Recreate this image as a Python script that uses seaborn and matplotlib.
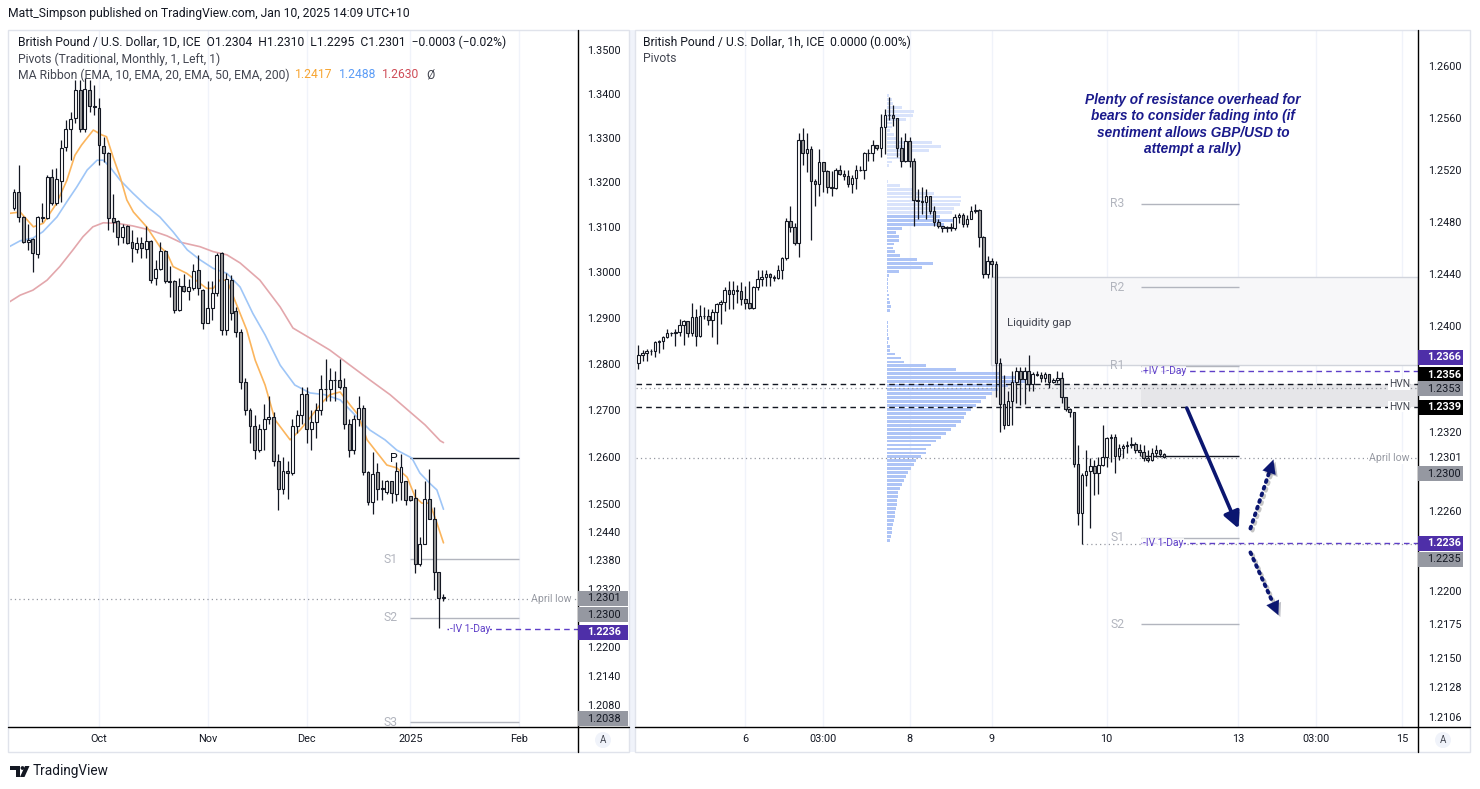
import numpy as np
import matplotlib
matplotlib.use("Agg")
import matplotlib.pyplot as plt
from matplotlib.patches import Rectangle, Circle, Polygon
from matplotlib.transforms import IdentityTransform
from matplotlib.ticker import NullLocator
import matplotlib.patheffects as pe
import seaborn as sns

sns.set_theme(style="white")
plt.rcParams['font.family'] = ['Roboto', 'DejaVu Sans']

# ---------------- daily GBP/USD (left panel) ----------------
d_open = [
    1.3143, 1.3179, 1.3123, 1.3068, 1.3074, 1.3041, 1.3121, 1.3121, 1.3212, 1.3154,
    1.3203, 1.3279, 1.3320, 1.3345, 1.3409, 1.3320, 1.3409, 1.3373, 1.3368, 1.3282,
    1.3266, 1.3121, 1.3114, 1.3079, 1.3103, 1.3068, 1.3052, 1.3066, 1.3052, 1.3070,
    1.2987, 1.3007, 1.3048, 1.2981, 1.2981, 1.2917, 1.2970, 1.2959, 1.2966, 1.3005,
    1.2961, 1.2890, 1.2922, 1.2955, 1.3043, 1.2874, 1.2983, 1.2915, 1.2870, 1.2760,
    1.2700, 1.2665, 1.2615, 1.2660, 1.2680, 1.2685, 1.2590, 1.2530, 1.2570, 1.2565,
    1.2665, 1.2690, 1.2735, 1.2660, 1.2675, 1.2700, 1.2745, 1.2745, 1.2765, 1.2765,
    1.2750, 1.2670, 1.2615, 1.2680, 1.2705, 1.2567, 1.2504, 1.2567, 1.2533, 1.2524,
    1.2548, 1.2520, 1.2546, 1.2548, 1.2517, 1.2512, 1.2372, 1.2414, 1.2510, 1.2468,
    1.2356, 1.2304]
d_high = [
    1.3185, 1.3239, 1.3125, 1.3107, 1.3076, 1.3125, 1.3154, 1.3216, 1.3230, 1.3232,
    1.3295, 1.3340, 1.3358, 1.3431, 1.3431, 1.3436, 1.3431, 1.3420, 1.3391, 1.3302,
    1.3268, 1.3174, 1.3116, 1.3107, 1.3105, 1.3094, 1.3079, 1.3079, 1.3103, 1.3072,
    1.3028, 1.3068, 1.3050, 1.3015, 1.2983, 1.2988, 1.2996, 1.2985, 1.3018, 1.3039,
    1.2963, 1.2981, 1.2981, 1.3043, 1.3045, 1.2998, 1.2994, 1.2925, 1.2875, 1.2770,
    1.2705, 1.2690, 1.2670, 1.2713, 1.2730, 1.2695, 1.2605, 1.2600, 1.2590, 1.2680,
    1.2700, 1.2750, 1.2750, 1.2700, 1.2715, 1.2775, 1.2810, 1.2790, 1.2785, 1.2810,
    1.2770, 1.2680, 1.2690, 1.2730, 1.2710, 1.2570, 1.2610, 1.2586, 1.2550, 1.2550,
    1.2548, 1.2588, 1.2606, 1.2548, 1.2517, 1.2531, 1.2429, 1.2548, 1.2573, 1.2493,
    1.2356, 1.2310]
d_low = [
    1.3138, 1.3112, 1.3066, 1.3050, 1.3001, 1.3032, 1.3112, 1.3118, 1.3150, 1.3150,
    1.3156, 1.3270, 1.3250, 1.3334, 1.3313, 1.3313, 1.3359, 1.3352, 1.3239, 1.3246,
    1.3094, 1.3090, 1.3061, 1.3066, 1.3064, 1.3023, 1.3043, 1.3032, 1.3032, 1.2977,
    1.2972, 1.3005, 1.2977, 1.2946, 1.2910, 1.2915, 1.2957, 1.2939, 1.2961, 1.2950,
    1.2876, 1.2889, 1.2896, 1.2948, 1.2863, 1.2863, 1.2896, 1.2858, 1.2745, 1.2690,
    1.2630, 1.2596, 1.2610, 1.2615, 1.2670, 1.2580, 1.2486, 1.2520, 1.2510, 1.2560,
    1.2650, 1.2670, 1.2630, 1.2615, 1.2640, 1.2690, 1.2720, 1.2720, 1.2720, 1.2745,
    1.2660, 1.2600, 1.2605, 1.2665, 1.2560, 1.2496, 1.2477, 1.2508, 1.2508, 1.2520,
    1.2502, 1.2506, 1.2508, 1.2497, 1.2506, 1.2354, 1.2368, 1.2414, 1.2468, 1.2318,
    1.2239, 1.2295]
d_close = [
    1.3179, 1.3123, 1.3068, 1.3072, 1.3043, 1.3123, 1.3122, 1.3212, 1.3154, 1.3207,
    1.3277, 1.3320, 1.3342, 1.3409, 1.3320, 1.3411, 1.3373, 1.3371, 1.3284, 1.3266,
    1.3121, 1.3112, 1.3079, 1.3101, 1.3066, 1.3055, 1.3066, 1.3055, 1.3070, 1.2983,
    1.3007, 1.3048, 1.2981, 1.2980, 1.2917, 1.2970, 1.2959, 1.2968, 1.3003, 1.2966,
    1.2890, 1.2922, 1.2955, 1.3039, 1.2874, 1.2985, 1.2911, 1.2870, 1.2760, 1.2700,
    1.2665, 1.2615, 1.2660, 1.2680, 1.2685, 1.2590, 1.2530, 1.2570, 1.2565, 1.2665,
    1.2690, 1.2735, 1.2660, 1.2675, 1.2700, 1.2745, 1.2745, 1.2765, 1.2765, 1.2750,
    1.2670, 1.2615, 1.2680, 1.2705, 1.2567, 1.2504, 1.2563, 1.2531, 1.2531, 1.2548,
    1.2522, 1.2569, 1.2578, 1.2508, 1.2508, 1.2372, 1.2414, 1.2510, 1.2468, 1.2356,
    1.2301, 1.2301]

# MA ribbon, read at bar positions
ema10_x = [-1, 1.3, 4.1, 6.2, 9.0, 11.2, 12.9, 14.3, 16.8, 18.6, 19.6, 21.0, 22.5, 23.9,
           25.3, 28.1, 30.9, 32.4, 33.7, 36.6, 39.4, 40.8, 42.2, 43.6, 45.1, 46.5, 47.9,
           49.3, 51.1, 53.2, 55.3, 58.5, 60.6, 62.7, 64.8, 66.9, 69.1, 71.2, 72.9, 74.8,
           79.0, 81.1, 83.3, 85.0, 86.4, 88.1, 89.6, 91.0]
ema10_v = [1.3131, 1.3134, 1.3101, 1.3109, 1.3153, 1.3205, 1.3261, 1.3284, 1.3318, 1.3307,
           1.3303, 1.3257, 1.3212, 1.3161, 1.3134, 1.3101, 1.3057, 1.3043, 1.3013, 1.2998,
           1.2976, 1.2965, 1.2965, 1.2983, 1.2983, 1.2946, 1.2910, 1.2874, 1.2808, 1.2754,
           1.2679, 1.2636, 1.2657, 1.2683, 1.2711, 1.2733, 1.2739, 1.2711, 1.2690, 1.2636,
           1.2582, 1.2576, 1.2556, 1.2514, 1.2501, 1.2501, 1.2459, 1.2417]
ema20_x = [-1, 1.3, 4.0, 6.1, 9.1, 11.2, 13.3, 15.5, 17.6, 18.9, 20.3, 22.5, 25.2, 28.2,
           30.9, 33.7, 36.7, 39.4, 42.2, 45.1, 47.9, 50.6, 53.2, 56.4, 59.5, 62.7, 65.9,
           69.1, 72.2, 75.4, 78.6, 81.1, 84.3, 86.0, 88.1, 89.6, 91.0]
ema20_v = [1.3057, 1.3070, 1.3076, 1.3090, 1.3123, 1.3157, 1.3190, 1.3228, 1.3250, 1.3250,
           1.3235, 1.3205, 1.3176, 1.3146, 1.3123, 1.3090, 1.3050, 1.3028, 1.3009, 1.2998,
           1.2968, 1.2910, 1.2863, 1.2797, 1.2754, 1.2737, 1.2733, 1.2722, 1.2690, 1.2657,
           1.2636, 1.2614, 1.2597, 1.2565, 1.2543, 1.2529, 1.2488]
ema50_x = [-1, 1.3, 4.0, 7.0, 9.7, 12.5, 14.6, 16.7, 18.9, 21.8, 25.2, 28.8, 32.4, 35.2,
           39.4, 42.2, 45.1, 47.9, 52.1, 56.4, 59.1, 62.7, 66.9, 71.2, 75.4, 79.7, 83.9,
           87.1, 90.3, 91.0]
ema50_v = [1.2935, 1.2950, 1.2961, 1.2983, 1.3013, 1.3050, 1.3079, 1.3101, 1.3110, 1.3109,
           1.3103, 1.3094, 1.3081, 1.3067, 1.3057, 1.3046, 1.3039, 1.3021, 1.2983, 1.2924,
           1.2878, 1.2856, 1.2830, 1.2797, 1.2765, 1.2733, 1.2696, 1.2668, 1.2634, 1.2630]

d_pivots = {'P': 1.2597, 'S1': 1.2383, 'S2': 1.2260, 'S3': 1.2045}
d_ticks = [1.35, 1.34, 1.33, 1.32, 1.31, 1.30, 1.29, 1.28, 1.27, 1.26, 1.25,
           1.244, 1.238, 1.232, 1.22, 1.214, 1.208]
d_time_pos = [18, 41, 62, 84, 107]
d_time_lab = ['Oct', 'Nov', 'Dec', '2025', 'Feb']

# ---------------- hourly GBP/USD (right panel) ----------------
h_close = [
    1.2378, 1.2380, 1.2381, 1.2381, 1.2388, 1.2389, 1.2392, 1.2395, 1.2395, 1.2396,
    1.2401, 1.2404, 1.2395, 1.2407, 1.2393, 1.2408, 1.2408, 1.2405, 1.2411, 1.2417,
    1.2419, 1.2428, 1.2425, 1.2428, 1.2427, 1.2421, 1.2418, 1.2414, 1.2430, 1.2436,
    1.2438, 1.2440, 1.2438, 1.2437, 1.2443, 1.2452, 1.2481, 1.2476, 1.2464, 1.2543,
    1.2533, 1.2536, 1.2511, 1.2509, 1.2526, 1.2519, 1.2507, 1.2506, 1.2520, 1.2517,
    1.2515, 1.2509, 1.2514, 1.2520, 1.2520, 1.2533, 1.2533, 1.2539, 1.2537, 1.2553,
    1.2562, 1.2562, 1.2560, 1.2537, 1.2527, 1.2542, 1.2527, 1.2497, 1.2496, 1.2495,
    1.2500, 1.2488, 1.2480, 1.2477, 1.2475, 1.2476, 1.2475, 1.2484, 1.2485, 1.2478,
    1.2482, 1.2488, 1.2489, 1.2468, 1.2440, 1.2450, 1.2448, 1.2372, 1.2341, 1.2325,
    1.2343, 1.2358, 1.2366, 1.2360, 1.2366, 1.2356, 1.2364, 1.2363, 1.2361, 1.2364,
    1.2358, 1.2359, 1.2361, 1.2346, 1.2337, 1.2335, 1.2296, 1.2259, 1.2287, 1.2290,
    1.2294, 1.2289, 1.2295, 1.2301, 1.2315, 1.2316, 1.2302, 1.2308, 1.2309, 1.2310,
    1.2311, 1.2306, 1.2305, 1.2300, 1.2299, 1.2304, 1.2306, 1.2303, 1.2301]
h_high = [
    1.2386, 1.2382, 1.2383, 1.2383, 1.2389, 1.2390, 1.2393, 1.2398, 1.2396, 1.2398,
    1.2406, 1.2405, 1.2400, 1.2418, 1.2413, 1.2416, 1.2415, 1.2413, 1.2413, 1.2418,
    1.2420, 1.2430, 1.2435, 1.2435, 1.2432, 1.2434, 1.2431, 1.2435, 1.2431, 1.2443,
    1.2443, 1.2443, 1.2441, 1.2439, 1.2447, 1.2453, 1.2483, 1.2492, 1.2479, 1.2548,
    1.2552, 1.2548, 1.2538, 1.2513, 1.2536, 1.2525, 1.2520, 1.2519, 1.2521, 1.2524,
    1.2520, 1.2520, 1.2516, 1.2524, 1.2523, 1.2534, 1.2536, 1.2543, 1.2538, 1.2563,
    1.2567, 1.2576, 1.2570, 1.2560, 1.2545, 1.2548, 1.2545, 1.2529, 1.2505, 1.2507,
    1.2505, 1.2497, 1.2492, 1.2482, 1.2477, 1.2477, 1.2479, 1.2486, 1.2487, 1.2487,
    1.2485, 1.2492, 1.2494, 1.2490, 1.2469, 1.2454, 1.2452, 1.2450, 1.2376, 1.2363,
    1.2351, 1.2366, 1.2369, 1.2369, 1.2369, 1.2378, 1.2365, 1.2366, 1.2365, 1.2365,
    1.2363, 1.2361, 1.2366, 1.2365, 1.2346, 1.2338, 1.2334, 1.2310, 1.2289, 1.2306,
    1.2300, 1.2299, 1.2301, 1.2325, 1.2316, 1.2318, 1.2318, 1.2311, 1.2311, 1.2313,
    1.2316, 1.2312, 1.2311, 1.2310, 1.2306, 1.2308, 1.2310, 1.2307, 1.2304]
h_low = [
    1.2368, 1.2374, 1.2374, 1.2378, 1.2377, 1.2380, 1.2383, 1.2391, 1.2393, 1.2385,
    1.2393, 1.2386, 1.2392, 1.2393, 1.2385, 1.2392, 1.2406, 1.2401, 1.2392, 1.2387,
    1.2402, 1.2412, 1.2413, 1.2413, 1.2418, 1.2416, 1.2413, 1.2413, 1.2413, 1.2428,
    1.2431, 1.2431, 1.2431, 1.2435, 1.2436, 1.2436, 1.2451, 1.2472, 1.2462, 1.2453,
    1.2524, 1.2518, 1.2466, 1.2492, 1.2500, 1.2503, 1.2502, 1.2500, 1.2505, 1.2516,
    1.2512, 1.2507, 1.2502, 1.2505, 1.2519, 1.2513, 1.2527, 1.2527, 1.2535, 1.2530,
    1.2532, 1.2558, 1.2554, 1.2530, 1.2522, 1.2526, 1.2522, 1.2477, 1.2482, 1.2486,
    1.2482, 1.2486, 1.2477, 1.2475, 1.2472, 1.2472, 1.2473, 1.2474, 1.2479, 1.2476,
    1.2476, 1.2482, 1.2487, 1.2461, 1.2437, 1.2437, 1.2438, 1.2346, 1.2320, 1.2322,
    1.2325, 1.2325, 1.2342, 1.2340, 1.2341, 1.2351, 1.2351, 1.2362, 1.2358, 1.2358,
    1.2353, 1.2357, 1.2357, 1.2342, 1.2336, 1.2331, 1.2293, 1.2250, 1.2235, 1.2279,
    1.2247, 1.2272, 1.2273, 1.2294, 1.2293, 1.2297, 1.2289, 1.2299, 1.2300, 1.2304,
    1.2308, 1.2304, 1.2302, 1.2298, 1.2297, 1.2298, 1.2301, 1.2301, 1.2300]
h_first_open = 1.2372

# volume profile rows, top row 1.2577, one row every 0.0003
vp_volume = [2, 5, 6, 16, 28, 27, 20, 5, 5, 3, 7, 12, 46, 55, 43, 25, 15, 5, 2, 0,
             0, 0, 1, 14, 30, 48, 75, 75, 74, 68, 66, 54, 68, 58, 16, 9, 13, 13, 7, 6,
             8, 14, 31, 47, 36, 13, 2, 1, 1, 1, 1, 2, 2, 3, 4, 3, 0, 0, 1, 1,
             1, 1, 2, 1, 3, 3, 8, 15, 18, 40, 70, 115, 138, 140, 122, 112, 106, 100, 95, 90,
             85, 80, 78, 75, 70, 65, 60, 55, 50, 45, 40, 40, 35, 30, 28, 25, 22, 20, 18, 16,
             14, 12, 12, 10, 10, 9, 8, 8, 7, 6, 5, 5, 4, 3]
vp_top, vp_step = 1.2577, 0.0003

h_pivots = {'R3': 1.2494, 'R2': 1.2430, 'R1': 1.2370, 'P': 1.2302, 'S1': 1.2240, 'S2': 1.2175}
gap_low, gap_high = 1.23706, 1.24377
hvn_low, hvn_high = 1.2339, 1.2356
iv_up, iv_down = 1.2366, 1.2236
april_low = 1.2300
h_ticks = [1.26, 1.256, 1.252, 1.248, 1.244, 1.24, 1.232, 1.2301, 1.226, 1.22,
           1.2175, 1.215, 1.2128, 1.2106]
h_tick_lab = ['1.2600', '1.2560', '1.2520', '1.2480', '1.2440', '1.2400', '1.2320', '1.2301',
              '1.2260', '1.2200', '1.2175', '1.2150', '1.2128', '1.2106']
h_time_pos = [26, 45, 66, 86, 114, 146, 165, 186]
h_time_lab = ['6', '03:00', '8', '9', '10', '13', '03:00', '15']

# ---------------- styling ----------------
W, H, DPI = 1480, 789, 100
TXT = '#131722'
DIM = '#434651'
GREY = '#b2b5be'
DOWN = '#9a9a9a'
GBOX = '#9598a1'
PBOX = '#4e2fa8'
PURPLE = '#5e3fc8'
NAVY = '#0b1670'
FS = 8.7
ID = IdentityTransform()

fig = plt.figure(figsize=(W / DPI, H / DPI), dpi=DPI)
fig.patch.set_facecolor('white')


def rect_px(x0, y0, x1, y1):
    return [x0 / W, 1 - y1 / H, (x1 - x0) / W, (y1 - y0) / H]


def fig_text(x, y, s, **kw):
    kw.setdefault('va', 'center')
    kw.setdefault('color', TXT)
    return fig.text(x, H - y, s, transform=ID, **kw)


def fig_rect(x0, y0, x1, y1, **kw):
    fig.add_artist(Rectangle((x0, H - y1), x1 - x0, y1 - y0, transform=ID, **kw))


def fig_line(xs, ys, **kw):
    fig.add_artist(plt.Line2D(xs, [H - y for y in ys], transform=ID, **kw))


# panel frames
fig_rect(629, 30, 635, 752, fc='#f0f3fa', ec='none')
fig_rect(8, 30, 629, 752, fc='none', ec='#e0e3eb', lw=1)
fig_rect(635, 30, 1470, 752, fc='none', ec='#e0e3eb', lw=1)

axL = fig.add_axes(rect_px(10, 30, 578, 727))
axR = fig.add_axes(rect_px(636, 30, 1418, 727))
for ax in (axL, axR):
    ax.set_facecolor('white')
    for s in ax.spines.values():
        s.set_visible(False)
    ax.set_yscale('log')
    ax.yaxis.tick_right()
    ax.tick_params(axis='both', length=0, labelsize=7.8, labelcolor=TXT)
    ax.tick_params(axis='x', pad=5)
    ax.grid(axis='x', color='#f0f3fa', lw=1)
    ax.grid(axis='y', visible=False)


def draw_candles(ax, o, h, l, c, width):
    o, h, l, c = map(np.asarray, (o, h, l, c))
    h = np.maximum(h, np.maximum(o, c))
    l = np.minimum(l, np.minimum(o, c))
    x = np.arange(len(c))
    ax.vlines(x, l, h, color=TXT, lw=0.9, zorder=5)
    lo, hi = np.minimum(o, c), np.maximum(o, c)
    face = np.where(c >= o, 'white', DOWN)
    ax.bar(x, hi - lo, bottom=lo, width=width, color=face, edgecolor=TXT,
           linewidth=0.8, zorder=6)


# ---------------- left: daily ----------------
axL.set_xlim(-0.85, 119.5)
axL.set_ylim(1.2035, 1.3546)

sns.lineplot(x=ema50_x, y=ema50_v, ax=axL, color='#e3a7ac', lw=1.2, sort=False, estimator=None, zorder=3)
sns.lineplot(x=ema20_x, y=ema20_v, ax=axL, color='#9fc6f7', lw=1.2, sort=False, estimator=None, zorder=3)
sns.lineplot(x=ema10_x, y=ema10_v, ax=axL, color='#fbb55d', lw=1.2, sort=False, estimator=None, zorder=3)
draw_candles(axL, d_open, d_high, d_low, d_close, 0.62)

for name, lvl in d_pivots.items():
    axL.hlines(lvl, 84, 107, colors=TXT if name == 'P' else GREY, lw=1, zorder=2)
    axL.text(81.3, lvl, name, ha='right', va='center', fontsize=8.7,
             color=TXT if name == 'P' else GREY, zorder=2)

axL.axhline(april_low, color='#9598a1', lw=0.9, ls=(0, (1, 2.5)), zorder=2)
axL.text(118.2, april_low, 'April low', ha='right', va='center', fontsize=7.6, color='#9598a1',
         bbox=dict(fc='white', ec='none', pad=0.6), zorder=3)
axL.hlines(iv_down, 91.7, 119.5, colors=PURPLE, lw=1, linestyles=(0, (4, 3)), zorder=2)
axL.text(92.3, iv_down, '-IV 1-Day', ha='left', va='center', fontsize=7.4, color=PURPLE,
         bbox=dict(fc='white', ec='none', pad=0.3), zorder=3)

axL.set_xticks(d_time_pos)
axL.set_xticklabels(d_time_lab)
axL.set_yticks(d_ticks)
axL.set_yticklabels(['%.4f' % t for t in d_ticks])
axL.yaxis.set_minor_locator(NullLocator())
axL.tick_params(axis='y', pad=6.5)
axL.set_xlabel('')
axL.set_ylabel('')

# ---------------- right: hourly ----------------
axR.set_xlim(-0.6, 189.8)
axR.set_ylim(1.20985, 1.2628)

h_open = [h_first_open] + h_close[:-1]
vp_levels = vp_top - vp_step * np.arange(len(vp_volume))
vp_cols = np.where(vp_levels > 1.2487, '#d9e3fb', '#aec4f6')
axR.barh(vp_levels, np.array(vp_volume) / 4.12, left=60.4, height=vp_step * 0.72,
         color=vp_cols, edgecolor='none', zorder=2)

axR.add_patch(Rectangle((85.9, gap_low), 189.8 - 85.9, gap_high - gap_low,
                        fc='#f7f7f9', ec='#d1d4dc', lw=1, zorder=1))
axR.text(89.8, 1.2403, 'Liquidity gap', fontsize=8.2, color=DIM, va='center', zorder=3)

axR.fill_between([85.9, 122.3], hvn_low, hvn_high, color='#f1f1f3', lw=0, zorder=1)
axR.fill_between([122.3, 189.8], hvn_low, hvn_high, color='#e6e6e9', lw=0, zorder=1)
axR.hlines([hvn_high, hvn_low], -0.6, 189.8, colors=TXT, lw=1, linestyles=(0, (4, 3)), zorder=3)
axR.axhline(1.2353, color='#9598a1', lw=0.9, ls=(0, (1, 2.5)), zorder=2)
for lvl in (hvn_high, hvn_low):
    axR.text(187.8, lvl, 'HVN', ha='right', va='center', fontsize=7.4, color=DIM,
             bbox=dict(fc='white', ec='none', pad=0.3), zorder=4)

axR.axhline(april_low, color='#9598a1', lw=0.9, ls=(0, (1, 2.5)), zorder=2)
axR.text(187.8, april_low, 'April low', ha='right', va='center', fontsize=7.6, color='#9598a1',
         bbox=dict(fc='white', ec='none', pad=0.6), zorder=3)
axR.hlines(1.2235, 108, 189.8, colors='#9598a1', lw=0.9, linestyles=(0, (1, 2.5)), zorder=2)

for name, lvl in h_pivots.items():
    axR.hlines(lvl, 122.3, 146.1, colors=TXT if name == 'P' else GREY, lw=1, zorder=2)
    axR.text(118.3, lvl, name, ha='right', va='center', fontsize=8.7,
             color='#c9ccd3' if name == 'P' else GREY, zorder=2)

axR.hlines([iv_up, iv_down], 122.3, 189.8, colors=PURPLE, lw=1, linestyles=(0, (4, 3)), zorder=3)
axR.text(122.8, iv_up, '+IV 1-Day', ha='left', va='center', fontsize=7.4, color=PURPLE,
         bbox=dict(fc='white', ec='none', pad=0.3, alpha=0.8), zorder=4)
axR.text(122.8, iv_down, '-IV 1-Day', ha='left', va='center', fontsize=7.4, color=PURPLE,
         bbox=dict(fc='white', ec='none', pad=0.3, alpha=0.8), zorder=4)

draw_candles(axR, h_open, h_high, h_low, h_close, 0.62)

axR.text(135, 1.2555, 'Plenty of resistance overhead for\nbears to consider fading into (if\n'
         'sentiment allows GBP/USD to\nattempt a rally)', ha='center', va='center',
         fontsize=9.8, color='#1a1a8c', fontweight='bold', fontstyle='italic',
         family=['Liberation Sans', 'DejaVu Sans'], linespacing=1.22, zorder=7)

# arrows: one solid, two dotted (dotted shaft + solid head)
shadow = [pe.SimplePatchShadow(offset=(1.5, -1.5), alpha=0.25), pe.Normal()]
head = dict(arrowstyle='-|>,head_length=0.7,head_width=0.35', lw=2.6, color=NAVY,
            mutation_scale=14, shrinkA=0, shrinkB=0)
solid = axR.annotate('', xy=(146.1, 1.2247), xytext=(133.5, 1.2338), zorder=8, arrowprops=head)
solid.arrow_patch.set_path_effects(shadow)
for (x0, y0), (x1, y1) in [((149.0, 1.2247), (154.6, 1.2299)),
                           ((149.0, 1.2229), (155.8, 1.2182))]:
    axR.plot([x0, x0 + 0.8 * (x1 - x0)], [y0, y0 + 0.8 * (y1 - y0)], color=NAVY, lw=2.8,
             ls=(0, (0.5, 1.3)), dash_capstyle='round', zorder=8,
             path_effects=[pe.SimpleLineShadow(offset=(1.5, -1.5), alpha=0.25), pe.Normal()])
    tip = axR.annotate('', xy=(x1, y1), xytext=(x0 + 0.8 * (x1 - x0), y0 + 0.8 * (y1 - y0)),
                       zorder=8, arrowprops=dict(head, lw=0.1))
    tip.arrow_patch.set_path_effects(shadow)

axR.set_xticks(h_time_pos)
axR.set_xticklabels(h_time_lab)
axR.set_yticks(h_ticks)
axR.set_yticklabels(h_tick_lab)
axR.yaxis.set_minor_locator(NullLocator())
axR.tick_params(axis='y', pad=7)
axR.set_xlabel('')
axR.set_ylabel('')


# ---------------- price labels on the scales ----------------
def price_box(ax, price, label, fc, tc, width, dy=0.0, bold=False):
    yd = ax.transData.transform((0, price))[1] - dy
    x0 = ax.transAxes.transform((1, 0))[0]
    fig.add_artist(Rectangle((x0, yd - 7.5), width, 15, transform=ID, fc=fc, ec='none', zorder=20))
    fig.text(x0 + 9, yd, label, transform=ID, color=tc, fontsize=7.8, va='center', ha='left',
             fontweight='bold' if bold else 'normal', zorder=21)


price_box(axL, 1.2301, '1.2301', GBOX, TXT, 50)
price_box(axL, 1.2300, '1.2300', GBOX, TXT, 50, dy=16)
price_box(axL, 1.2236, '1.2236', PBOX, 'white', 50, dy=3, bold=True)
price_box(axL, 1.2038, '1.2038', GBOX, TXT, 50, dy=-7)

price_box(axR, 1.2366, '1.2366', PBOX, 'white', 45, dy=-14, bold=True)
price_box(axR, 1.2356, '1.2356', 'black', 'white', 45, dy=-9.5, bold=True)
price_box(axR, 1.2353, '1.2353', GBOX, TXT, 45, dy=0.5)
price_box(axR, 1.2339, '1.2339', 'black', 'white', 45, dy=0.5, bold=True)
price_box(axR, 1.2300, '1.2300', GBOX, TXT, 45, dy=15.6)
price_box(axR, 1.2236, '1.2236', PBOX, 'white', 45, bold=True)
price_box(axR, 1.2235, '1.2235', GBOX, TXT, 45, dy=15)

# axis separator lines
fig_line([578, 578], [30, 752], color='black', lw=1)
fig_line([8, 629], [727, 727], color='black', lw=1)
fig_line([1418, 1418], [30, 752], color='black', lw=1)
fig_line([635, 1470], [727, 727], color='black', lw=1)

for cx in (603, 1443):
    fig.add_artist(Circle((cx, H - 740), 8, transform=ID, fc='#f0f3fa', ec='none'))
    fig_text(cx, 740, 'A', ha='center', fontsize=7, color=DIM)

# ---------------- legends / header / footer ----------------
fig_text(8, 14, 'Matt_Simpson published on TradingView.com, Jan 10, 2025 14:09 UTC+10',
         fontsize=FS)
fig_text(18, 42, 'British Pound / U.S. Dollar, 1D, ICE  O1.2304  H1.2310  L1.2295  '
         'C1.2301  \u22120.0003 (\u22120.02%)', fontsize=FS)
fig_text(18, 59, 'Pivots (Traditional, Monthly, 1, Left, 1)', fontsize=FS, color=DIM)
fig_text(18, 75, 'MA Ribbon (EMA, 10, EMA, 20, EMA, 50, EMA, 200)', fontsize=FS, color=DIM)
fig_text(295, 75, '1.2417', fontsize=FS, color='#f7a531')
fig_text(339, 75, '1.2488', fontsize=FS, color='#5b9cf6')
fig_text(382, 75, '1.2630', fontsize=FS, color='#cf4c57')
fig_text(426, 75, '\u00d8', fontsize=FS, color=DIM)
fig_text(643, 42, 'British Pound / U.S. Dollar, 1h, ICE  0.0000 (0.00%)', fontsize=FS)
fig_text(643, 59, 'Pivots', fontsize=FS, color=DIM)

# TradingView mark
fig.add_artist(Polygon([(10, H - 766), (20, H - 766), (20, H - 777), (15.5, H - 777),
                        (15.5, H - 770), (10, H - 770)], closed=True, transform=ID,
                       fc=TXT, ec='none'))
fig.add_artist(Circle((22.5, H - 768), 1.9, transform=ID, fc=TXT, ec='none'))
fig.add_artist(Polygon([(25, H - 766), (29.5, H - 766), (24.5, H - 777), (20, H - 777)],
                       closed=True, transform=ID, fc=TXT, ec='none'))
fig_text(33, 771.5, 'TradingView', fontsize=9.8, color=TXT)

fig.savefig('out.png', dpi=DPI, facecolor='white')
